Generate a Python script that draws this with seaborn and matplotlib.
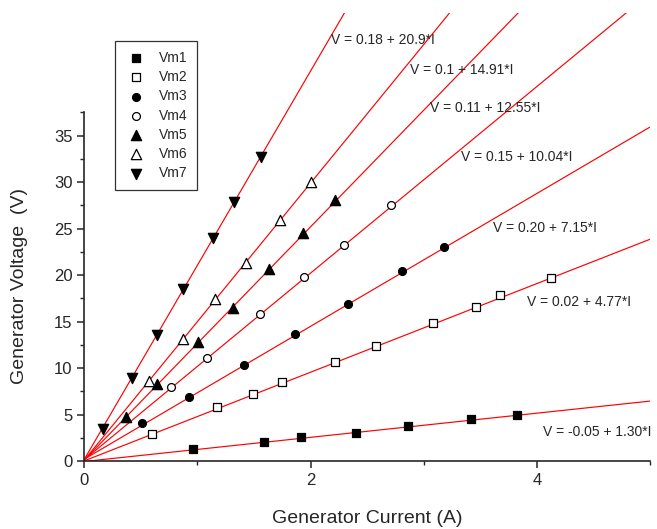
import matplotlib
matplotlib.use("Agg")
import matplotlib.pyplot as plt
import numpy as np
import pandas as pd
import seaborn as sns
from matplotlib.ticker import MultipleLocator

sns.set_style("ticks")
plt.rcParams.update({
    "font.family": ["Liberation Sans", "DejaVu Sans"],
    "xtick.direction": "out",
    "ytick.direction": "out",
    "axes.linewidth": 1.2,
})

# measured points (current A, voltage V)
vm1_i = [0.957, 1.59, 1.914, 2.40, 2.862, 3.416, 3.825]
vm1_v = [1.26, 2.08, 2.55, 3.01, 3.80, 4.49, 4.98]
vm2_i = [0.60, 1.17, 1.493, 1.749, 2.212, 2.577, 3.078, 3.457, 3.675, 4.125]
vm2_v = [2.94, 5.78, 7.25, 8.47, 10.66, 12.38, 14.82, 16.61, 17.90, 19.70]
vm3_i = [0.507, 0.928, 1.413, 1.861, 2.33, 2.81, 3.175]
vm3_v = [4.06, 6.92, 10.30, 13.67, 16.87, 20.42, 23.07]
vm4_i = [0.766, 1.081, 1.549, 1.941, 2.294, 2.707]
vm4_v = [7.93, 11.09, 15.79, 19.84, 23.28, 27.52]
vm5_i = [0.368, 0.64, 1.004, 1.316, 1.634, 1.935, 2.217]
vm5_v = [4.77, 8.26, 12.78, 16.5, 20.63, 24.51, 28.09]
vm6_i = [0.569, 0.872, 1.155, 1.426, 1.729, 2.0]
vm6_v = [8.58, 13.1, 17.41, 21.35, 25.94, 30.07]
vm7_i = [0.163, 0.421, 0.64, 0.875, 1.14, 1.32, 1.564]
vm7_v = [3.41, 8.97, 13.53, 18.48, 23.97, 27.85, 32.76]

series_names = ["Vm1", "Vm2", "Vm3", "Vm4", "Vm5", "Vm6", "Vm7"]
series_i = [vm1_i, vm2_i, vm3_i, vm4_i, vm5_i, vm6_i, vm7_i]
series_v = [vm1_v, vm2_v, vm3_v, vm4_v, vm5_v, vm6_v, vm7_v]

# linear fits V = a + b*I
fit_a = [-0.05, 0.02, 0.20, 0.15, 0.11, 0.1, 0.18]
fit_b = [1.30, 4.77, 7.15, 10.04, 12.55, 14.91, 20.9]
fit_labels = ["V = -0.05 + 1.30*I", "V = 0.02 + 4.77*I", "V = 0.20 + 7.15*I",
              "V = 0.15 + 10.04*I", "V = 0.11 + 12.55*I", "V = 0.1 + 14.91*I",
              "V = 0.18 + 20.9*I"]
label_x = [4.05, 3.91, 3.61, 3.327, 3.053, 2.877, 2.18]
label_y = [3.1, 17.1, 25.1, 32.7, 38.0, 42.1, 45.3]

styles = [("s", "black"), ("s", "white"), ("o", "black"), ("o", "white"),
          ("^", "black"), ("^", "white"), ("v", "black")]
sizes = [28, 28, 32, 32, 55, 55, 55]

fig = plt.figure(figsize=(6.57, 5.29), dpi=100)
ax = fig.add_axes([0.1283, 0.1285, 0.8615, 0.8469])

i_grid = np.linspace(0, 5, 200)
for a, b in zip(fit_a, fit_b):
    fit_df = pd.DataFrame({"I": i_grid, "V": a + b * i_grid})
    sns.lineplot(data=fit_df, x="I", y="V", color="red", linewidth=0.85, ax=ax)

for name, xs, ys, (mk, fc), s in zip(series_names, series_i, series_v, styles, sizes):
    df = pd.DataFrame({"I": xs, "V": ys})
    sns.scatterplot(data=df, x="I", y="V", marker=mk, s=s, color=fc,
                    edgecolor="black", linewidth=0.9, label=name, ax=ax, zorder=3)

for txt, tx, ty in zip(fit_labels, label_x, label_y):
    ax.text(tx, ty, txt, fontsize=10, va="center", ha="left")

ax.set_xlim(0, 5)
ax.set_ylim(0, 48.2)
ax.spines["left"].set_bounds(0, 37.6)
ax.spines["top"].set_visible(False)
ax.spines["right"].set_visible(False)
ax.set_xticks([0, 2, 4])
ax.xaxis.set_minor_locator(MultipleLocator(1))
ax.set_yticks(np.arange(0, 36, 5))
ax.set_yticks(np.arange(2.5, 38, 5), minor=True)
ax.tick_params(which="major", length=5, width=1.1, labelsize=12)
ax.tick_params(which="minor", length=3, width=1.0)

ax.set_xlabel("Generator Current (A)", fontsize=14, labelpad=16)
ax.set_ylabel("Generator Voltage  (V)", fontsize=14, labelpad=10)
ax.yaxis.set_label_coords(-0.1, 37.6 / 48.2 / 2)

leg = ax.legend(loc="upper left", bbox_to_anchor=(0.054, 0.9375), borderaxespad=0,
                fontsize=10, frameon=True, fancybox=False, edgecolor="black",
                handlelength=1.7, handletextpad=0.75, labelspacing=0.38,
                borderpad=0.7)
leg.get_frame().set_linewidth(0.9)

fig.savefig("out.png", dpi=100)
